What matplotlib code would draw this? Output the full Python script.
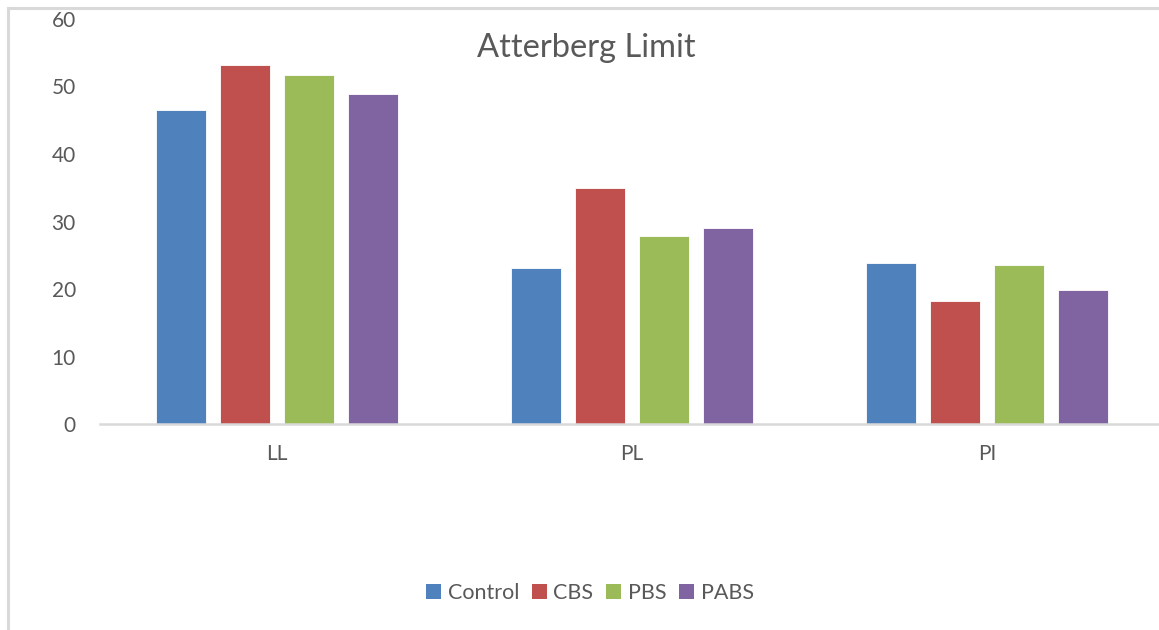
import matplotlib
matplotlib.use("Agg")
import matplotlib.pyplot as plt
from matplotlib.lines import Line2D
from matplotlib.patches import Patch
import numpy as np

# Atterberg limit values per test and mix
categories = ["LL", "PL", "PI"]
series_names = ["Control", "CBS", "PBS", "PABS"]
control = [46.5, 23.1, 23.9]
cbs = [53.2, 35.0, 18.3]
pbs = [51.6, 27.9, 23.5]
pabs = [48.8, 29.0, 19.9]
y_ticks = [0, 10, 20, 30, 40, 50, 60]

colors = ["#4F81BD", "#C0504D", "#9BBB59", "#8064A2"]
text_color = "#595959"
grey_line = "#D9D9D9"

plt.rcParams["font.family"] = ["Lato", "DejaVu Sans"]

W, H = 1159, 630
fig = plt.figure(figsize=(W / 100, H / 100), dpi=100)
fig.patch.set_facecolor("white")

# chart frame (left and top edges visible)
fig.add_artist(Line2D([7.5 / W, 7.5 / W], [0, 1 - 7.5 / H], color=grey_line, lw=2.2))
fig.add_artist(Line2D([7.5 / W, 1], [1 - 7.5 / H, 1 - 7.5 / H], color=grey_line, lw=2.2))

left, right = 99.5 / W, 1164.5 / W
bottom, top = 1 - 424.3 / H, 1 - 18.7 / H
ax = fig.add_axes([left, bottom, right - left, top - bottom])

x = np.arange(len(categories))
width = 0.142
step = 0.18
all_series = [control, cbs, pbs, pabs]
for i, (vals, col, name) in enumerate(zip(all_series, colors, series_names)):
    offset = (i - 1.5) * step
    ax.bar(x + offset, vals, width=width, color=col, edgecolor="white",
           linewidth=0.6, label=name, zorder=2)

ax.set_xlim(-0.5, 2.5)
ax.set_ylim(0, 60)
ax.set_yticks(y_ticks)
ax.set_xticks(x)
ax.set_xticklabels(categories)

for s in ["top", "right", "left"]:
    ax.spines[s].set_visible(False)
ax.spines["bottom"].set_color(grey_line)
ax.spines["bottom"].set_linewidth(1.8)
ax.spines["bottom"].set_zorder(3)

ax.tick_params(axis="y", length=0, pad=17, labelsize=15, labelcolor=text_color)
ax.tick_params(axis="x", length=0, pad=14, labelsize=15, labelcolor=text_color)

fig.text(586 / W, 1 - 48 / H, "Atterberg Limit", ha="center", va="center",
         fontsize=23.5, color=text_color)

handles = [Patch(facecolor=c, edgecolor="none") for c in colors]
fig.legend(handles, series_names, loc="center",
           bbox_to_anchor=(590 / W, 1 - 593 / H), ncol=4, frameon=False,
           fontsize=15.5, labelcolor=text_color, handlelength=0.7,
           handleheight=0.7, handletextpad=0.3, columnspacing=0.6)

fig.savefig("out.png", dpi=100, facecolor="white")
